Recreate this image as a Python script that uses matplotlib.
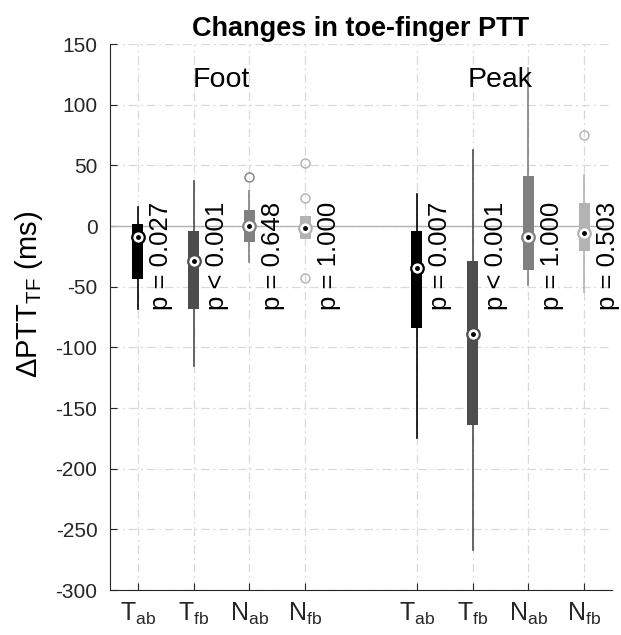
import matplotlib
matplotlib.use('Agg')
import matplotlib.pyplot as plt

plt.rcParams['font.family'] = ['Liberation Sans', 'DejaVu Sans']
plt.rcParams['mathtext.fontset'] = 'custom'
plt.rcParams['mathtext.rm'] = 'Liberation Sans'
plt.rcParams['axes.unicode_minus'] = False

# box statistics (ms)
positions = [1, 2, 3, 4, 6, 7, 8, 9]
tick_labels = [r'$\mathregular{T_{ab}}$', r'$\mathregular{T_{fb}}$',
               r'$\mathregular{N_{ab}}$', r'$\mathregular{N_{fb}}$'] * 2
colors = ['#000000', '#4d4d4d', '#808080', '#b3b3b3'] * 2

medians = [-9, -29, 0, -2, -35, -89, -9, -6]
q1 = [-44, -68, -13, -11, -84, -164, -36, -21]
q3 = [2, -4, 13, 8, -4, -29, 41, 19]
whislo = [-68, -115, -30, -11, -175, -267, -49, -54]
whishi = [16, 37, 29, 8, 26, 63, 130, 42]
outliers = [[], [], [40], [52, 23, -43], [], [], [], [75]]
pvalues = ['p = 0.027', 'p < 0.001', 'p = 0.648', 'p = 1.000',
           'p = 0.007', 'p < 0.001', 'p = 1.000', 'p = 0.503']
phases = ['Foot', 'Peak']
phase_x = [2.5, 7.5]

fig = plt.figure(figsize=(6.21, 6.35), dpi=100)
ax = fig.add_axes([110 / 621, 1 - 590 / 635, 502 / 621, 546 / 635])

stats = []
for i in range(len(positions)):
    stats.append({'med': medians[i], 'q1': q1[i], 'q3': q3[i],
                  'whislo': whislo[i], 'whishi': whishi[i],
                  'fliers': outliers[i]})

parts = ax.bxp(stats, positions=positions, widths=0.2, patch_artist=True,
               showcaps=False, showfliers=True, manage_ticks=False)
for i, c in enumerate(colors):
    parts['boxes'][i].set_facecolor(c)
    parts['boxes'][i].set_edgecolor('none')
    parts['boxes'][i].set_zorder(3)
    for w in parts['whiskers'][2 * i:2 * i + 2]:
        w.set_color(c)
        w.set_linewidth(1.2)
        w.set_zorder(2)
    parts['fliers'][i].set_marker('o')
    parts['fliers'][i].set_markerfacecolor('none')
    parts['fliers'][i].set_markeredgecolor(c)
    parts['fliers'][i].set_markersize(6.5)
    parts['medians'][i].set_visible(False)
    ax.plot(positions[i], medians[i], 'o', ms=9, mfc='white', mec=c,
            mew=1.6, zorder=4)
    ax.plot(positions[i], medians[i], 'o', ms=2.5, color='black', zorder=5)
    ax.text(positions[i] + 0.42, -69, pvalues[i], rotation=90,
            ha='center', va='bottom', fontsize=18.5)

for name, x in zip(phases, phase_x):
    ax.text(x, 120, name, ha='center', va='center', fontsize=20.5)

ax.axhline(0, color='#b3b3b3', lw=1, zorder=1)

ax.set_xlim(0.5, 9.5)
ax.set_ylim(-300, 150)
ax.set_xticks(positions)
ax.set_xticklabels(tick_labels, fontsize=18)
ax.set_yticks(range(-300, 151, 50))
ax.tick_params(axis='y', labelsize=15, pad=9)
ax.tick_params(axis='x', pad=8)
ax.tick_params(direction='in', length=5, colors='#262626')
ax.set_axisbelow(True)
ax.grid(True, color='#d9d9d9', linestyle=(0, (7, 3, 1.5, 3)), lw=0.9)
for s in ['top', 'right']:
    ax.spines[s].set_visible(False)
for s in ['left', 'bottom']:
    ax.spines[s].set_color('#262626')

ax.set_ylabel('ΔPTT$_{\\mathregular{TF}}$ (ms)', fontsize=21)
ax.yaxis.set_label_coords(-0.13, 0.542)
ax.set_title('Changes in toe-finger PTT', fontsize=19.5, fontweight='bold', pad=6)

fig.savefig('out.png', dpi=100)
